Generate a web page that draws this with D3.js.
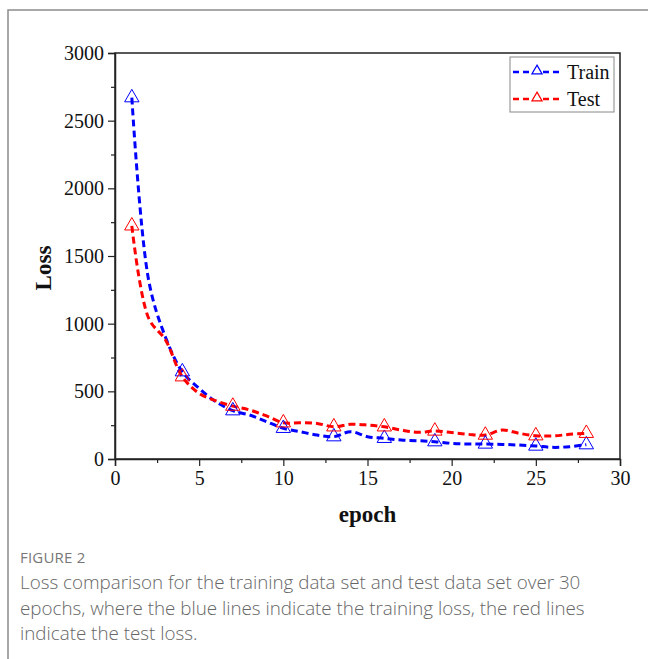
<!DOCTYPE html>
<html lang="en">
  <head>
    <meta charset="UTF-8" />
    <title>Loss comparison</title>
    <script src="https://d3js.org/d3.v7.min.js"></script>
    <style>
      body {
        margin: 0;
        background: #fff;
      }
      svg {
        display: block;
      }
    </style>
  </head>
  <body>
    <div id="chart"></div>
    <script>
      // values
      const epochs = [
        1, 2, 3, 4, 5, 6, 7, 8, 9, 10, 11, 12, 13, 14, 15, 16, 17, 18, 19, 20,
        21, 22, 23, 24, 25, 26, 27, 28,
      ];
      const trainLoss = [
        2670, 1320, 900, 645, 522, 423, 357, 325, 276, 227, 202, 177, 165, 202,
        165, 153, 140, 135, 128, 116, 111, 111, 108, 103, 96, 86, 91, 106,
      ];
      const testLoss = [
        1723, 1040, 880, 608, 485, 430, 391, 362, 318, 268, 268, 263, 238, 256,
        251, 238, 214, 197, 207, 195, 182, 177, 214, 190, 172, 170, 182, 190,
      ];
      const markerEpochs = [1, 4, 7, 10, 13, 16, 19, 22, 25, 28];
      const xTicks = [0, 5, 10, 15, 20, 25, 30];
      const yTicks = [0, 500, 1000, 1500, 2000, 2500, 3000];
      const seriesNames = ["Train", "Test"];
      const seriesColors = ["#0000ff", "#ff0000"];
      const captionTitle = "FIGURE 2";
      const captionLines = [
        "Loss comparison for the training data set and test data set over 30",
        "epochs, where the blue lines indicate the training loss, the red lines",
        "indicate the test loss.",
      ];

      const W = 648,
        H = 659;
      const plot = { left: 115, top: 53, right: 620, bottom: 459 };

      const svg = d3
        .select("#chart")
        .append("svg")
        .attr("width", W)
        .attr("height", H);

      // outer figure frame (only top/left visible)
      svg
        .append("rect")
        .attr("x", 8)
        .attr("y", 10)
        .attr("width", 700)
        .attr("height", 700)
        .attr("fill", "none")
        .attr("stroke", "#8c8c8c")
        .attr("stroke-width", 1.5);

      const x = d3.scaleLinear().domain([0, 30]).range([plot.left, plot.right]);
      const y = d3
        .scaleLinear()
        .domain([0, 3000])
        .range([plot.bottom, plot.top]);

      const serif = "'Liberation Serif', 'Times New Roman', serif";

      // box around plot
      svg
        .append("rect")
        .attr("x", plot.left)
        .attr("y", plot.top)
        .attr("width", plot.right - plot.left)
        .attr("height", plot.bottom - plot.top)
        .attr("fill", "none")
        .attr("stroke", "#222")
        .attr("stroke-width", 1.5);

      // minor ticks
      const xMinor = d3.range(2.5, 30, 5);
      const yMinor = d3.range(250, 3000, 500);

      svg
        .append("g")
        .attr("transform", `translate(0,${plot.bottom})`)
        .call(d3.axisBottom(x).tickValues(xMinor).tickSize(4).tickFormat(""))
        .call((g) => g.select(".domain").remove())
        .selectAll("line")
        .attr("stroke", "#222")
        .attr("stroke-width", 1.2);

      svg
        .append("g")
        .attr("transform", `translate(${plot.left},0)`)
        .call(d3.axisLeft(y).tickValues(yMinor).tickSize(4).tickFormat(""))
        .call((g) => g.select(".domain").remove())
        .selectAll("line")
        .attr("stroke", "#222")
        .attr("stroke-width", 1.2);

      // major axes
      const xAxis = svg
        .append("g")
        .attr("transform", `translate(0,${plot.bottom})`)
        .call(
          d3
            .axisBottom(x)
            .tickValues(xTicks)
            .tickSize(7)
            .tickPadding(5)
            .tickFormat(d3.format("d"))
        );
      const yAxis = svg
        .append("g")
        .attr("transform", `translate(${plot.left},0)`)
        .call(
          d3
            .axisLeft(y)
            .tickValues(yTicks)
            .tickSize(7)
            .tickPadding(4)
            .tickFormat(d3.format("d"))
        );

      [xAxis, yAxis].forEach((g) => {
        g.select(".domain").attr("stroke", "#222").attr("stroke-width", 1.5);
        g.selectAll(".tick line")
          .attr("stroke", "#222")
          .attr("stroke-width", 1.2);
        g.selectAll(".tick text")
          .attr("font-family", serif)
          .attr("font-size", 20)
          .attr("fill", "#111");
      });

      // axis titles
      svg
        .append("text")
        .attr("x", (plot.left + plot.right) / 2)
        .attr("y", 522)
        .attr("text-anchor", "middle")
        .attr("font-family", serif)
        .attr("font-weight", "bold")
        .attr("font-size", 23)
        .attr("fill", "#111")
        .text("epoch");

      svg
        .append("text")
        .attr("transform", "translate(51,268) rotate(-90)")
        .attr("text-anchor", "middle")
        .attr("font-family", serif)
        .attr("font-weight", "bold")
        .attr("font-size", 23)
        .attr("fill", "#111")
        .text("Loss");

      // series
      const series = [trainLoss, testLoss];
      const line = d3
        .line()
        .x((d, i) => x(epochs[i]))
        .y((d) => y(d))
        .curve(d3.curveCatmullRom.alpha(0.5));

      const tri = d3.symbol().type(d3.symbolTriangle).size(90);
      const triSmall = d3.symbol().type(d3.symbolTriangle).size(45);

      series.forEach((vals, s) => {
        svg
          .append("path")
          .datum(vals)
          .attr("d", line)
          .attr("fill", "none")
          .attr("stroke", seriesColors[s])
          .attr("stroke-width", 3)
          .attr("stroke-dasharray", "7,4");
      });

      series.forEach((vals, s) => {
        svg
          .append("g")
          .selectAll("path")
          .data(markerEpochs)
          .join("path")
          .attr("d", tri)
          .attr(
            "transform",
            (e) => `translate(${x(e)},${y(vals[epochs.indexOf(e)])})`
          )
          .attr("fill", "none")
          .attr("stroke", seriesColors[s])
          .attr("stroke-width", 1);
      });

      // legend
      const lg = svg.append("g").attr("transform", "translate(510,57)");
      lg.append("rect")
        .attr("width", 104)
        .attr("height", 55)
        .attr("fill", "#fff")
        .attr("stroke", "#888")
        .attr("stroke-width", 1);

      seriesNames.forEach((name, i) => {
        const cy = 15 + i * 27;
        lg.append("line")
          .attr("x1", 3)
          .attr("x2", 52)
          .attr("y1", cy)
          .attr("y2", cy)
          .attr("stroke", seriesColors[i])
          .attr("stroke-width", 2.5)
          .attr("stroke-dasharray", "6,4");
        lg.append("path")
          .attr("d", triSmall)
          .attr("transform", `translate(27,${cy - 1})`)
          .attr("fill", "#fff")
          .attr("stroke", seriesColors[i])
          .attr("stroke-width", 1.2);
        lg.append("text")
          .attr("x", 57)
          .attr("y", cy + 7)
          .attr("font-family", serif)
          .attr("font-size", 20)
          .attr("fill", "#111")
          .text(name);
      });

      // caption
      svg
        .append("text")
        .attr("x", 20)
        .attr("y", 563)
        .attr("font-family", "'Open Sans', sans-serif")
        .attr("font-size", 15)
        .attr("fill", "#777")
        .attr("letter-spacing", 0.2)
        .text(captionTitle);

      svg
        .append("g")
        .selectAll("text")
        .data(captionLines)
        .join("text")
        .attr("x", 20)
        .attr("y", (d, i) => 589 + i * 25.5)
        .attr("font-family", "'Open Sans', sans-serif")
        .attr("font-weight", 300)
        .attr("font-size", 18.8)
        .attr("fill", "#666")
        .text((d) => d);
    </script>
  </body>
</html>
